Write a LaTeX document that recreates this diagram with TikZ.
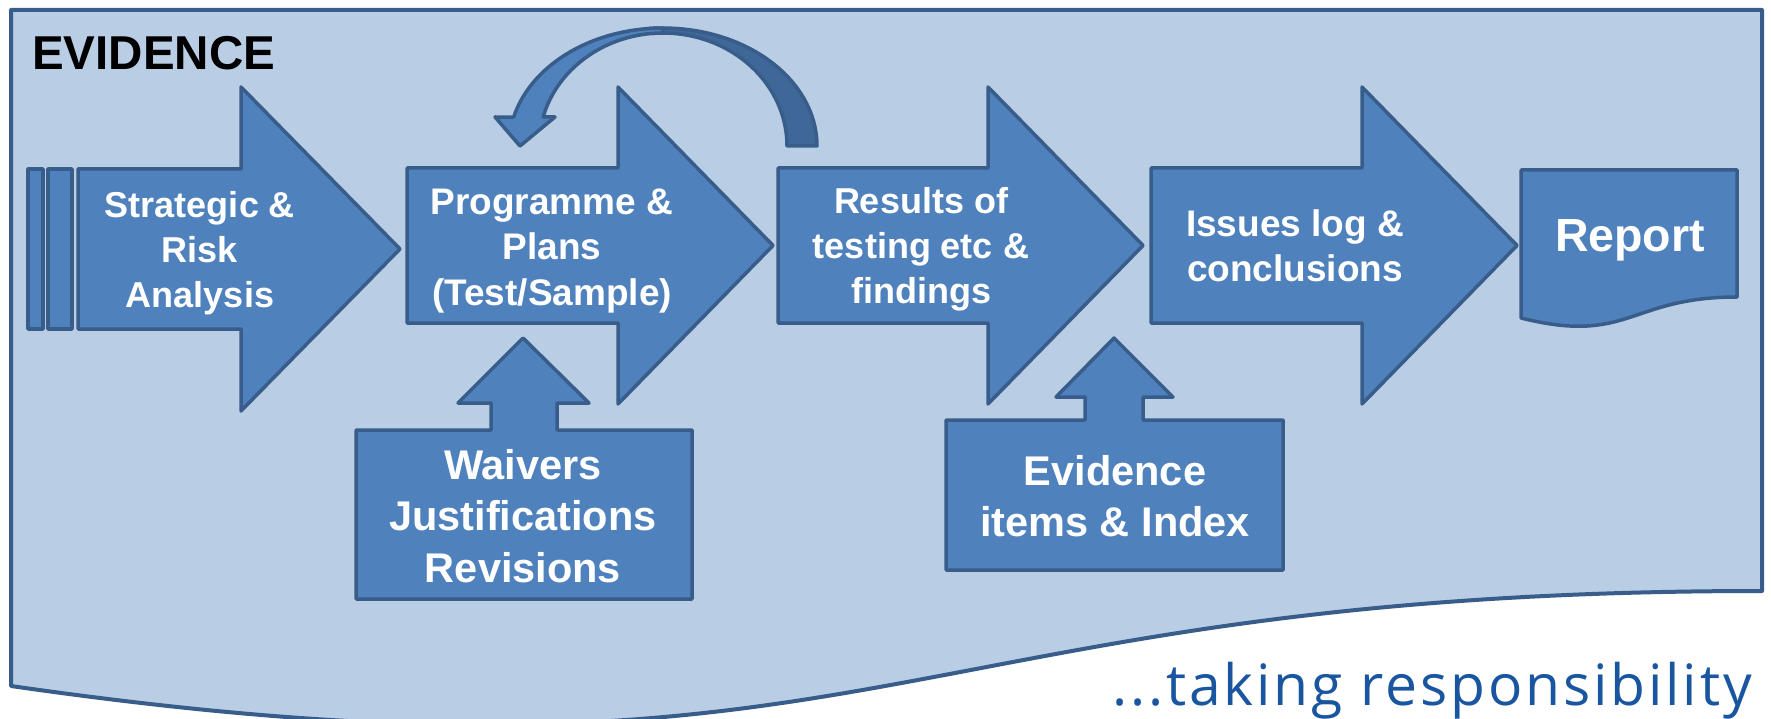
\documentclass[tikz,border=0pt]{standalone}
\usepackage{fontspec}
\setmainfont{Liberation Sans}
\newfontfamily\tagfont[LetterSpace=5]{Open Sans}
\definecolor{bgblue}{HTML}{B9CDE5}
\definecolor{shapeblue}{HTML}{4F81BD}
\definecolor{edgeblue}{HTML}{385D8A}
\definecolor{backblue}{HTML}{3F6797}
\definecolor{tagblue}{HTML}{1A56A0}
\begin{document}
\begin{tikzpicture}[x=1pt,y=-1pt,
  blk/.style={fill=shapeblue,draw=edgeblue,line width=3.5pt,line join=round},
  lbl/.style={text=white,font=\bfseries,align=center,anchor=base,inner sep=0pt}]
\useasboundingbox (0,0) rectangle (1771,719);
\fill[white] (0,0) rectangle (1771,719);
% frame (document shape)
\draw[fill=bgblue,draw=edgeblue,line width=4pt,line join=round]
  (11,10) -- (1762,10) -- (1762,591) .. controls (886.5,591) and (886.5,812) .. (11,686) -- cycle;
\node[anchor=base west,inner sep=0pt,font=\bfseries\fontsize{47.5}{50}\selectfont] (title) at (32,70) {EVIDENCE};
% curved feedback arrow
\draw[blk,fill=backblue]
  plot[domain=0:95,samples=40,variable=\t] ({663+154*cos(\t)},{146-118*sin(\t)})
  -- plot[domain=95:0,samples=40,variable=\t] ({663+124*cos(\t)},{146-113*sin(\t)}) -- cycle;
\draw[blk]
  plot[domain=90:165.8,samples=40,variable=\t] ({663+154*cos(\t)},{146-118*sin(\t)})
  -- (495,117) -- (520,146) -- (555,117)
  -- plot[domain=165.1:90,samples=40,variable=\t] ({663+124*cos(\t)},{146-113*sin(\t)}) -- cycle;
% arrow 1 (striped)
\draw[blk] (28,169) rectangle (43,329);
\draw[blk] (48,169) rectangle (72,329);
\draw[blk] (78,169) -- (241,169) -- (241,87) -- (400,249) -- (241,411) -- (241,329) -- (78,329) -- cycle;
% arrow 2
\draw[blk] (407,168) -- (618,168) -- (618,87) -- (773,245.5) -- (618,404) -- (618,323) -- (407,323) -- cycle;
% arrow 3
\draw[blk] (778,168) -- (988,168) -- (988,87) -- (1143,245.5) -- (988,404) -- (988,323) -- (778,323) -- cycle;
% arrow 4
\draw[blk] (1151,168) -- (1362,168) -- (1362,87) -- (1517,245.5) -- (1362,404) -- (1362,323) -- (1151,323) -- cycle;
% report (document shape)
\draw[blk] (1521,170) -- (1737,170) -- (1737,297) .. controls (1629,297) and (1629,345) .. (1521,318) -- cycle;
% waivers callout
\draw[blk] (356,599) -- (356,430) -- (491,430) -- (491,403) -- (458,403) -- (523,338) -- (589,403) -- (557,403) -- (557,430) -- (692,430) -- (692,599) -- cycle;
% evidence callout
\draw[blk] (946,570) -- (946,420) -- (1085,420) -- (1085,397) -- (1056,397) -- (1114,338) -- (1173,397) -- (1143,397) -- (1143,420) -- (1283,420) -- (1283,570) -- cycle;
% labels (base anchor = baseline of last line)
\node[lbl,font=\bfseries\fontsize{36}{45}\selectfont] (strat) at (200,307) {Strategic \&\\Risk\\Analysis};
\node[lbl,font=\bfseries\fontsize{37}{45}\selectfont] (prog) at (552,305) {Programme \&\\Plans\\(Test/Sample)};
\node[lbl,font=\bfseries\fontsize{36}{44.5}\selectfont] (res) at (921,303) {Results of\\testing etc \&\\findings};
\node[lbl,font=\bfseries\fontsize{37}{45}\selectfont] (iss) at (1295,281) {Issues log \&\\conclusions};
\node[lbl,font=\bfseries\fontsize{46.5}{50}\selectfont] (rep) at (1630,252) {Report};
\node[lbl,font=\bfseries\fontsize{41.5}{51.5}\selectfont] (waiv) at (523,582) {Waivers\\Justifications\\Revisions};
\node[lbl,font=\bfseries\fontsize{41.5}{51}\selectfont] (evid) at (1115,536) {Evidence\\items \& Index};
\node[anchor=base west,inner sep=0pt,text=tagblue,font=\tagfont\fontsize{57}{60}\selectfont] (tag) at (1112,705) {...taking responsibility};
\end{tikzpicture}
\end{document}
